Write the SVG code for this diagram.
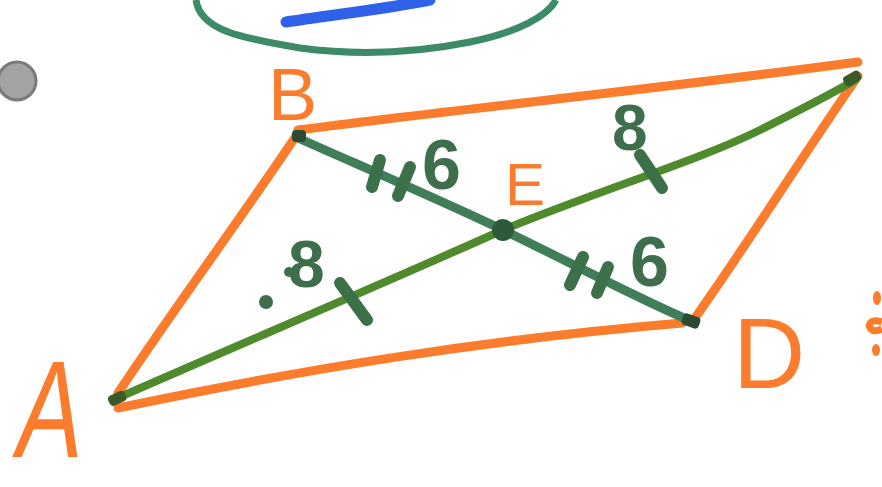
<svg xmlns="http://www.w3.org/2000/svg" width="882" height="487" viewBox="0 0 882 487">
<style>
.side{fill:none;stroke:#fb7c2c;stroke-width:9;stroke-linecap:round;stroke-linejoin:round}
.ac{fill:none;stroke:#4f8a2c;stroke-width:8;stroke-linecap:round}
.bd{fill:none;stroke:#3f7e58;stroke-width:9;stroke-linecap:round}
.tick{fill:none;stroke:#3c7048;stroke-width:12;stroke-linecap:round}
.lab{font-family:"Liberation Sans",Arial,sans-serif;fill:#fb7c2c}
.num{font-family:"Liberation Sans",Arial,sans-serif;font-weight:bold;fill:#3f6e4c}
</style>
<rect width="882" height="487" fill="#ffffff"/>
<g id="blob">
<path d="M196,0 C200,30 240,38 300,48 C360,56 420,52 470,42 C520,32 548,15 556,0" fill="none" stroke="#3d8a68" stroke-width="7"/>
<path d="M286,22 C340,14 390,8 430,0" fill="none" stroke="#2f62e8" stroke-width="11" stroke-linecap="round"/>
</g>
<g id="dot-grey"><circle cx="17" cy="81" r="19" fill="#a3a3a3" stroke="#7a7a7a" stroke-width="3"/></g>
<g id="parallelogram">
<path class="side" d="M118,393 C180,300 240,220 298,133"/>
<path class="side" d="M298,130 C450,110 650,90 858,62"/>
<path class="side" d="M858,76 C800,160 750,240 695,318"/>
<path class="side" d="M118,408 C300,370 480,340 682,323"/>
</g>
<g id="connectors">
<path class="ac" d="M113,400 C250,340 380,285 503,230 C600,190 700,160 760,130 C800,110 830,95 855,80"/>
<path class="bd" d="M298,138 C370,170 440,200 503,230 C570,262 630,295 693,322"/>
<rect x="108" y="393" width="18" height="11" rx="4" fill="#3a5a2a" transform="rotate(-25 117 398)"/>
<rect x="843" y="73" width="18" height="11" rx="4" fill="#3a5a2a" transform="rotate(-30 852 78)"/>
<rect x="292" y="130" width="14" height="12" rx="4" fill="#2d4a33"/>
<rect x="682" y="315" width="18" height="12" rx="4" fill="#2d4a33" transform="rotate(20 691 321)"/>
<circle cx="503" cy="230" r="11" fill="#2e5a3c"/>
<path class="tick" d="M380,160 L372,187"/>
<path class="tick" d="M410,167 L398,196"/>
<path class="tick" d="M583,257 L570,285"/>
<path class="tick" d="M608,267 L597,293"/>
<path class="tick" d="M340,283 L367,320" stroke="#3f6a34"/>
<path class="tick" d="M640,155 L662,188" stroke="#3f6a34"/>
</g>
<g id="labels">
<text class="lab" x="268" y="120" font-size="74">B</text>
<text class="lab" font-size="120" transform="translate(12,457) skewX(-8) scale(0.82,1.15)">A</text>
<text class="lab" x="733" y="388" font-size="100">D</text>
<text class="lab" x="505" y="205" font-size="60">E</text>
<text class="num" x="422" y="189" font-size="70" fill="#4a7a58">6</text>
<text class="num" x="630" y="286" font-size="70">6</text>
<text class="num" x="612" y="150" font-size="64" fill="#3f6e4c">8</text>
<text class="num" x="288" y="287" font-size="66">8</text>
<circle cx="289" cy="272" r="5" fill="#3f6e4c"/>
<circle cx="266" cy="302" r="7" fill="#3f6e4c"/>
</g>
<g id="edge-marks">
<ellipse cx="877" cy="298" rx="4" ry="7" fill="#fb7c2c"/>
<path d="M882,322 C870,318 866,326 872,330 C876,332 880,330 882,329" fill="none" stroke="#fb7c2c" stroke-width="7"/>
<ellipse cx="876" cy="350" rx="4" ry="6" fill="#fb7c2c"/>
</g>
</svg>
